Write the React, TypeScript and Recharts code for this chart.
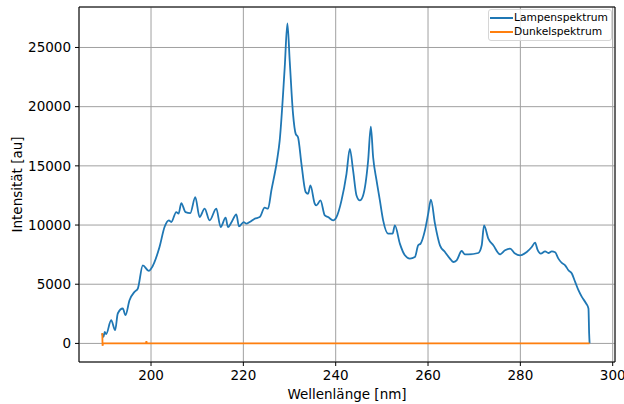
import {
  LineChart,
  Line,
  XAxis,
  YAxis,
  CartesianGrid,
  ReferenceLine,
} from "recharts";

// Lampenspektrum: wavelength [nm] and intensity [au]
const lampWavelengths = [
  189.41, 189.7, 189.98, 190.28, 191.37, 192.23, 192.8, 193.88, 194.47, 195.34,
  196.42, 197.14, 198.22, 199.52, 200.04, 201.84, 202.93, 203.86, 204.38, 205.47,
  205.97, 206.55, 207.48, 208.5, 209.59, 210.52, 211.61, 212.69, 214.14, 215.08,
  216.16, 216.66, 217.46, 218.48, 219.05, 220.07, 220.65, 221.37, 222.45, 223.54,
  224.62, 225.34, 226.07, 227.29, 227.87, 228.96, 229.54, 230.04, 230.76, 231.34,
  231.84, 232.58, 233.51, 234.01, 234.53, 235.47, 235.84, 236.7, 237.64, 238.35,
  239.44, 240.17, 241.26, 242.34, 243.06, 243.77, 244.51, 245.23, 245.94, 247.03,
  247.61, 248.11, 248.85, 249.57, 250.28, 251.37, 252.32, 252.82, 253.9, 254.99,
  256.07, 257.16, 257.87, 258.39, 259.33, 260.04, 260.63, 261.5, 262.58, 263.67,
  264.75, 265.47, 266.2, 267.29, 268.0, 268.72, 270.89, 271.63, 272.13, 273.06,
  274.14, 275.6, 276.68, 277.77, 278.85, 279.93, 281.39, 282.47, 283.19, 283.69,
  284.43, 285.36, 286.07, 286.81, 287.53, 288.24, 288.98, 289.7, 290.41, 291.15,
  291.87, 292.58, 293.32, 294.25, 294.75, 294.9, 295.0,
];
const lampIntensity = [
  843, 556, 978, 784, 1964, 1121, 2529, 2950, 2386, 3650,
  4350, 4637, 6600, 6120, 6322, 8143, 9830, 10394, 10252, 11094,
  10960, 11853, 11094, 11010, 12358, 10672, 11380, 10394, 11380, 9830,
  10622, 9830, 10252, 10900, 9888, 10252, 10116, 10252, 10537, 10672,
  11465, 11380, 12923, 15452, 17138, 23318, 27027, 23880, 19389, 17703,
  17417, 15174, 12780, 12645, 13345, 11802, 11659, 12080, 10815, 10672,
  10394, 10672, 12080, 14331, 16438, 14609, 12501, 12080, 12501, 15452,
  18318, 15730, 13766, 12080, 10394, 9273, 9273, 9973, 8430, 7444,
  7165, 7300, 8287, 8430, 9551, 10959, 12139, 10116, 8287, 7722,
  7165, 6879, 7022, 7806, 7528, 7528, 7638, 8287, 9973, 8852,
  8287, 7528, 7865, 8008, 7587, 7444, 7722, 8143, 8514, 7950,
  7587, 7781, 7638, 7781, 7700, 7165, 6795, 6601, 6179, 5901,
  5193, 4493, 3928, 3372, 2950, 843, 0,
];

// Dunkelspektrum: flat around zero with two small spikes
const darkWavelengths = [189.45, 189.5, 189.6, 198.9, 199.0, 199.1, 295.0];
const darkIntensity = [880, -200, 0, 0, 200, 0, 0];

const xTicks = [200, 220, 240, 260, 280, 300];
const yTicks = [0, 5000, 10000, 15000, 20000, 25000];

const lampData = lampWavelengths.map((wl, i) => ({ wl, amt: lampIntensity[i] }));
const darkData = darkWavelengths.map((wl, i) => ({ wl, amt: darkIntensity[i] }));

const X_DOMAIN: [number, number] = [184.4, 300.5];
const Y_DOMAIN: [number, number] = [-1570, 28420];

const font = "'DejaVu Sans', sans-serif";

const legendItems = [
  { name: "Lampenspektrum", color: "#1f77b4" },
  { name: "Dunkelspektrum", color: "#ff7f0e" },
];

const SpectrumLegend = () => (
  <div
    style={{
      position: "absolute",
      top: 9,
      right: 12,
      background: "rgba(255,255,255,0.8)",
      border: "1px solid #d6d6d6",
      borderRadius: 3,
      padding: "1px 3px 1px 1px",
      fontFamily: font,
      fontSize: 10.7,
      color: "#000",
      lineHeight: "14px",
    }}
  >
    {legendItems.map((e) => (
      <div key={e.name} style={{ display: "flex", alignItems: "center" }}>
        <span
          style={{
            display: "inline-block",
            width: 23,
            height: 2,
            background: e.color,
            marginRight: 1,
          }}
        />
        {e.name}
      </div>
    ))}
  </div>
);

export default function App() {
  return (
    <div style={{ position: "absolute", left: 0, top: 0, width: 624, height: 404, background: "#fff" }}>
      <LineChart
        width={624}
        height={404}
        margin={{ top: 7, right: 9, left: 0, bottom: 0 }}
        style={{ fontFamily: font }}
      >
        <CartesianGrid stroke="#a0a0a0" strokeWidth={1} />
        <XAxis
          dataKey="wl"
          type="number"
          domain={X_DOMAIN}
          ticks={xTicks}
          allowDataOverflow
          height={42}
          stroke="#000"
          tickSize={4}
          tickMargin={4}
          tick={{ fill: "#000", fontSize: 13.5 }}
          label={{
            value: "Wellenlänge [nm]",
            position: "insideBottom",
            offset: 5,
            fill: "#000",
            fontSize: 13.5,
          }}
        />
        <YAxis
          type="number"
          domain={Y_DOMAIN}
          ticks={yTicks}
          allowDataOverflow
          width={79}
          stroke="#000"
          tickSize={4}
          tickMargin={4}
          tick={{ fill: "#000", fontSize: 13.5 }}
          label={{
            value: "Intensität [au]",
            angle: -90,
            position: "insideLeft",
            offset: 17,
            style: { textAnchor: "middle" },
            fill: "#000",
            fontSize: 13.5,
          }}
        />
        <ReferenceLine y={Y_DOMAIN[1]} stroke="#000" />
        <ReferenceLine x={X_DOMAIN[1]} stroke="#000" />
        <Line
          data={lampData}
          dataKey="amt"
          name="Lampenspektrum"
          type="monotone"
          stroke="#1f77b4"
          strokeWidth={1.8}
          dot={false}
          isAnimationActive={false}
        />
        <Line
          data={darkData}
          dataKey="amt"
          name="Dunkelspektrum"
          type="linear"
          stroke="#ff7f0e"
          strokeWidth={1.8}
          dot={false}
          isAnimationActive={false}
        />
      </LineChart>
      <SpectrumLegend />
    </div>
  );
}
